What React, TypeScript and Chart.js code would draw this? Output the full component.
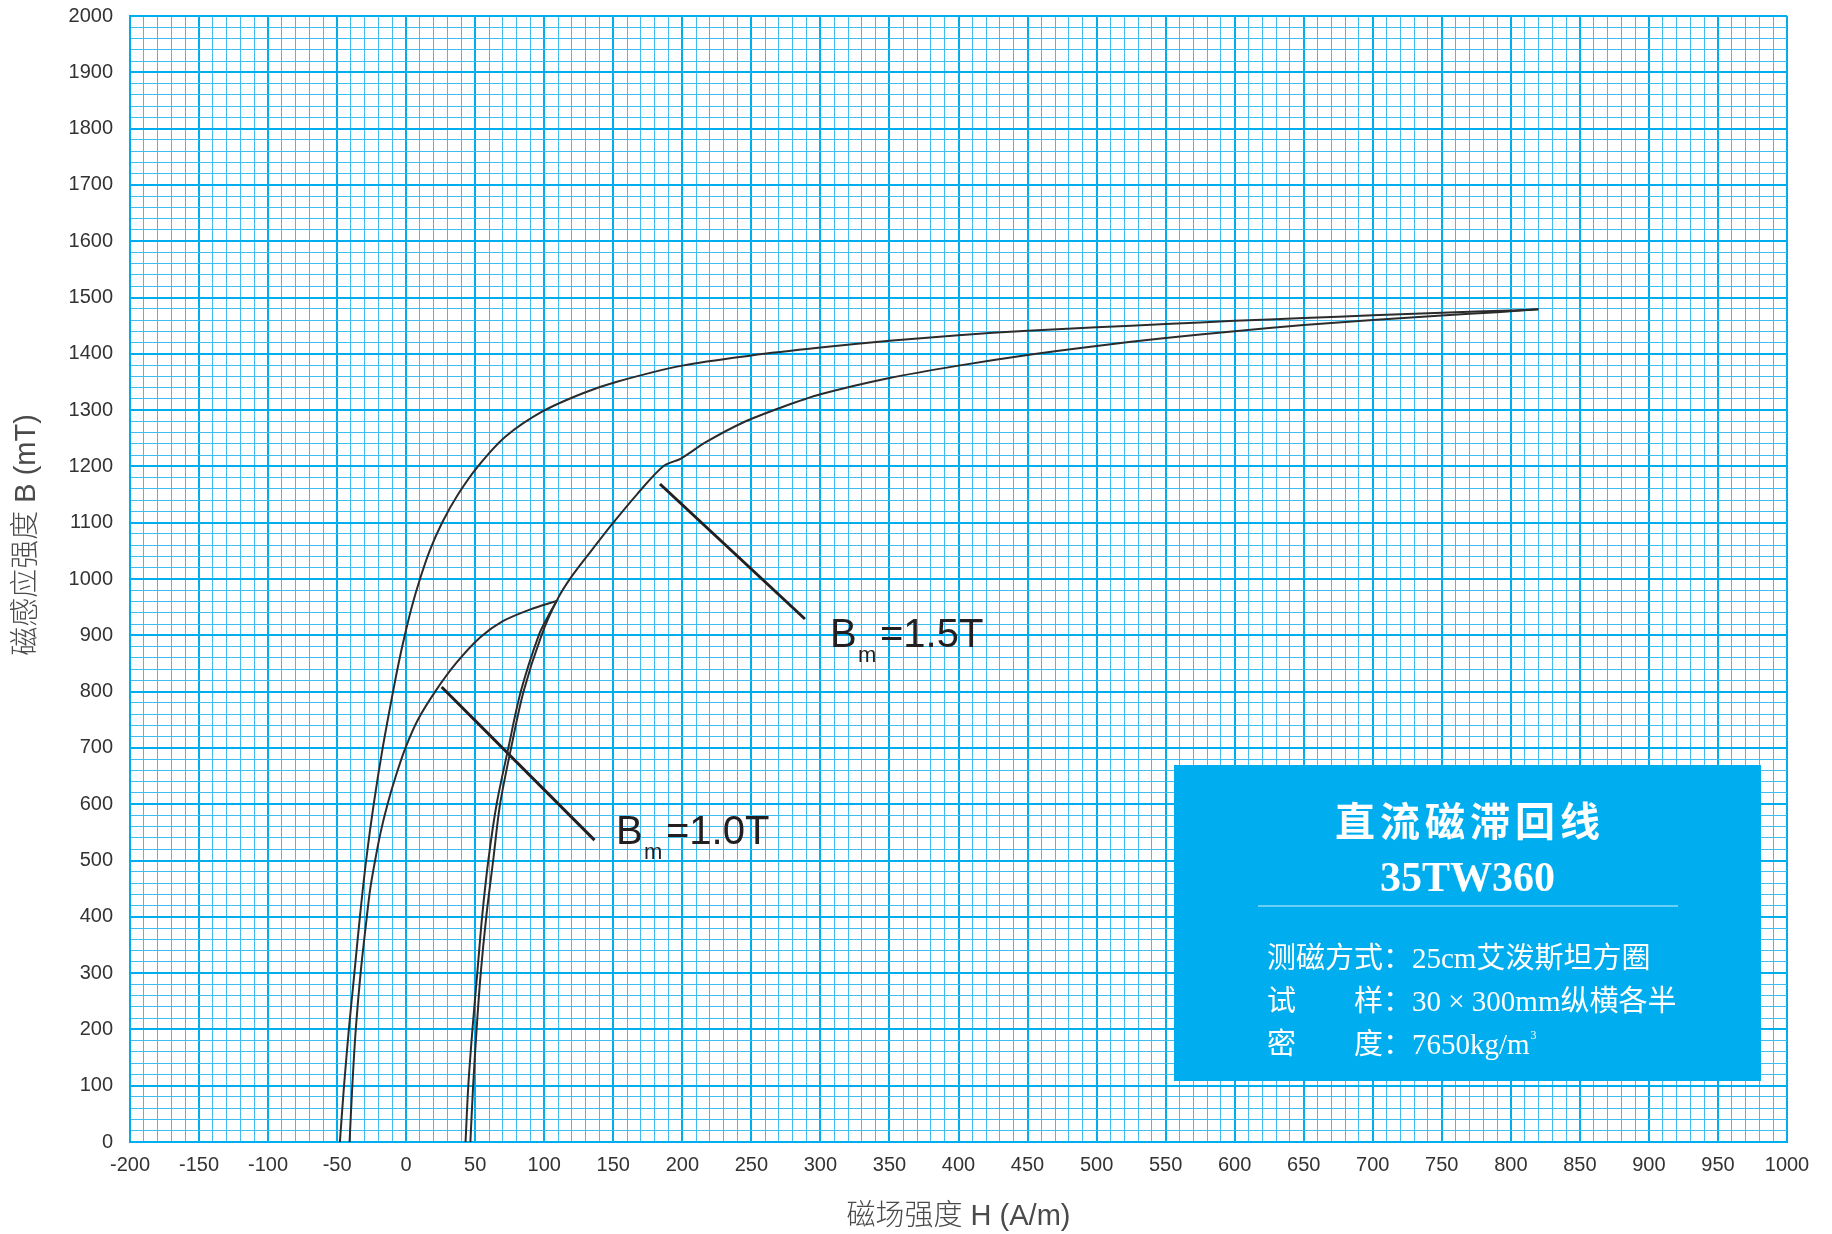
import React, { useEffect, useRef } from 'react';
import { Chart, registerables } from 'chart.js';

Chart.register(...registerables);

// ---- axes ----
const X_MIN = -200;
const X_MAX = 1000;
const X_MINOR_STEP = 10;
const X_MAJOR_STEP = 50;
const Y_MIN = 0;
const Y_MAX = 2000;
const Y_MINOR_STEP = 20;
const Y_MAJOR_STEP = 100;

const xTitle = '磁场强度 H (A/m)';
const yTitle = '磁感应强度 B (mT)';

// ---- Bm = 1.5T loop ----
const loop15DownH = [-48, -45, -41.5, -37.5, -33.5, -29, -23.5, -17, -9.5, -5.5, -1, 4, 10, 17, 26, 37.5, 52, 72, 99, 128, 152, 200, 250, 300, 350, 400, 450, 500, 550, 600, 650, 700, 750, 800, 820];
const loop15DownB = [0, 100, 200, 300, 400, 500, 600, 700, 800, 850, 900, 950, 1000, 1050, 1100, 1150, 1200, 1253, 1298, 1330, 1350, 1379, 1397, 1411, 1423, 1433, 1441, 1447, 1453, 1458.5, 1463.5, 1468.5, 1473, 1477, 1479];
const loop15UpH = [46.5, 48.5, 51, 54, 58, 63, 68, 76, 85, 98, 110, 120, 134, 150, 167, 186, 199, 217, 244, 272, 300, 350, 400, 450, 500, 550, 600, 650, 700, 750, 790, 820];
const loop15UpB = [0, 100, 200, 300, 400, 500, 600, 700, 800, 900, 966, 1005, 1050, 1100, 1150, 1200, 1214, 1243, 1278, 1305, 1328, 1357, 1379, 1398, 1414, 1428, 1440, 1451, 1460, 1468, 1474, 1479];

// ---- Bm = 1.0T loop ----
const loop10DownH = [-41, -39, -36.5, -33, -28.5, -26, -22.5, -18.5, -13.5, -7.5, -0.5, 8.5, 21, 36, 53.5, 70, 90, 109];
const loop10DownB = [0, 100, 200, 300, 400, 450, 500, 550, 600, 650, 700, 750, 800, 850, 896, 925, 946, 961];
const loop10UpH = [43, 45, 48, 51.5, 55, 59.5, 65.5, 74, 83, 96, 103, 109];
const loop10UpB = [0, 100, 200, 300, 400, 500, 600, 700, 800, 900, 935, 961];

// ---- pointer lines & labels ----
const pointer15H = [183.8, 288.8];
const pointer15B = [1168.7, 929];
const pointer10H = [25.7, 136.4];
const pointer10B = [808.2, 536.2];
const bmLabelText = ['=1.5T', '=1.0T'];
const bmLabelH = [306.9, 151.9];
const bmLabelB = [879.2, 529.3];

// ---- info box ----
const boxTitle = '直流磁滞回线';
const boxModel = '35TW360';
const boxLabels = ['测磁方式：', '试　　样：', '密　　度：'];
const boxValues = ['25cm艾泼斯坦方圈', '30 × 300mm纵横各半', '7650kg/m'];

const MAJOR = '#00aeef';
const MINOR = '#3fbdf0';
const CURVE = '#2b2b2b';
const INK = '#231f20';

const pts = (h: number[], b: number[]) => h.map((v, i) => ({ x: v, y: b[i] }));

const isMultiple = (v: number, m: number) => Math.abs(v % m) < 1e-6;

const overlayPlugin = {
  id: 'overlay',
  afterDraw(chart: any) {
    const { ctx, scales } = chart;
    const xs = scales.x;
    const ys = scales.y;
    ctx.save();

    // Bm labels
    for (let i = 0; i < bmLabelText.length; i++) {
      const px = xs.getPixelForValue(bmLabelH[i]);
      const py = ys.getPixelForValue(bmLabelB[i]);
      ctx.fillStyle = INK;
      ctx.textAlign = 'left';
      ctx.textBaseline = 'alphabetic';
      ctx.font = '40px "Liberation Sans", Arial, sans-serif';
      ctx.fillText('B', px, py);
      ctx.font = '22px "Liberation Sans", Arial, sans-serif';
      ctx.fillText('m', px + 28, py + 15);
      ctx.font = '40px "Liberation Sans", Arial, sans-serif';
      ctx.fillText(bmLabelText[i], px + 50, py);
    }

    // info box
    const bx = 1174, by = 765, bw = 587, bh = 316;
    const cx = bx + bw / 2;
    ctx.fillStyle = MAJOR;
    ctx.fillRect(bx, by, bw, bh);
    ctx.fillStyle = '#ffffff';
    ctx.font = 'bold 40px "Noto Sans CJK SC", sans-serif';
    (ctx as any).letterSpacing = '5px';
    const tw = ctx.measureText(boxTitle).width - 5;
    ctx.textBaseline = 'middle';
    ctx.fillText(boxTitle, cx - tw / 2, by + 56);
    (ctx as any).letterSpacing = '0px';
    ctx.textAlign = 'center';
    ctx.textBaseline = 'alphabetic';
    ctx.font = 'bold 42px "Liberation Serif", "Times New Roman", serif';
    ctx.fillText(boxModel, cx, by + 126);
    ctx.strokeStyle = 'rgba(255,255,255,0.55)';
    ctx.lineWidth = 1.5;
    ctx.beginPath();
    ctx.moveTo(bx + 84, by + 141);
    ctx.lineTo(bx + 504, by + 141);
    ctx.stroke();
    ctx.textAlign = 'left';
    ctx.font = '29px "Liberation Serif", "Noto Sans CJK SC", serif';
    const lineY = [by + 203, by + 246, by + 289];
    let valueX = bx + 93;
    for (let i = 0; i < boxLabels.length; i++) {
      ctx.fillText(boxLabels[i], bx + 93, lineY[i]);
      valueX = bx + 93 + ctx.measureText(boxLabels[0]).width;
      ctx.fillText(boxValues[i], valueX, lineY[i]);
    }
    const w3 = ctx.measureText(boxValues[2]).width;
    ctx.font = '12px "Liberation Serif", serif';
    ctx.fillText('3', valueX + w3 + 1, lineY[2] - 15);

    // axis titles
    ctx.fillStyle = '#4a4a4a';
    ctx.font = '300 29px "Liberation Sans", "Noto Sans CJK SC", sans-serif';
    ctx.textAlign = 'center';
    ctx.textBaseline = 'middle';
    const ca = chart.chartArea;
    ctx.fillText(xTitle, (ca.left + ca.right) / 2, 1217);
    ctx.translate(27, 535);
    ctx.rotate(-Math.PI / 2);
    ctx.fillText(yTitle, 0, 0);
    ctx.restore();
  },
};

export default function App() {
  const ref = useRef<HTMLCanvasElement | null>(null);

  useEffect(() => {
    if (!ref.current) return;
    const curve = (h: number[], b: number[]) => ({
      data: pts(h, b),
      showLine: true,
      borderColor: CURVE,
      borderWidth: 2,
      pointRadius: 0,
      tension: 0.3,
      fill: false,
    });
    const pointer = (h: number[], b: number[]) => ({
      data: pts(h, b),
      showLine: true,
      borderColor: INK,
      borderWidth: 3,
      pointRadius: 0,
      tension: 0,
      fill: false,
    });
    const chart = new Chart(ref.current, {
      type: 'scatter',
      data: {
        datasets: [
          curve(loop15DownH, loop15DownB),
          curve(loop15UpH, loop15UpB),
          curve(loop10DownH, loop10DownB),
          curve(loop10UpH, loop10UpB),
          pointer(pointer15H, pointer15B),
          pointer(pointer10H, pointer10B),
        ] as any,
      },
      options: {
        responsive: false,
        animation: false,
        devicePixelRatio: 1,
        layout: { padding: { top: 16, right: 45, left: 0, bottom: 0 } },
        plugins: {
          legend: { display: false },
          tooltip: { enabled: false },
        },
        scales: {
          x: {
            type: 'linear',
            min: X_MIN,
            max: X_MAX,
            afterFit: (s: any) => { s.height = 92; },
            ticks: {
              stepSize: X_MINOR_STEP,
              autoSkip: false,
              maxRotation: 0,
              minRotation: 0,
              padding: 11,
              color: '#333333',
              font: { family: '"Liberation Sans", Arial, sans-serif', size: 20 },
              callback: (v: any) => (isMultiple(Number(v), X_MAJOR_STEP) ? String(v) : ''),
            },
            grid: {
              drawTicks: false,
              color: (c: any) => (c.tick && isMultiple(c.tick.value, X_MAJOR_STEP) ? MAJOR : MINOR),
              lineWidth: (c: any) => (c.tick && isMultiple(c.tick.value, X_MAJOR_STEP) ? 2 : 1),
            },
            border: { display: true, color: MAJOR, width: 2 },
          },
          y: {
            type: 'linear',
            min: Y_MIN,
            max: Y_MAX,
            afterFit: (s: any) => { s.width = 130; s.paddingTop = 0; s.paddingBottom = 0; },
            ticks: {
              stepSize: Y_MINOR_STEP,
              autoSkip: false,
              padding: 17,
              color: '#333333',
              font: { family: '"Liberation Sans", Arial, sans-serif', size: 20 },
              callback: (v: any) => (isMultiple(Number(v), Y_MAJOR_STEP) ? String(v) : ''),
            },
            grid: {
              drawTicks: false,
              color: (c: any) => (c.tick && isMultiple(c.tick.value, Y_MAJOR_STEP) ? MAJOR : MINOR),
              lineWidth: (c: any) => (c.tick && isMultiple(c.tick.value, Y_MAJOR_STEP) ? 2 : 1),
            },
            border: { display: true, color: MAJOR, width: 2 },
          },
        },
      } as any,
      plugins: [overlayPlugin],
    });
    return () => chart.destroy();
  }, []);

  return (
    <div style={{ position: 'fixed', left: 0, top: 0, width: 1832, height: 1234, background: '#ffffff' }}>
      <canvas ref={ref} width={1832} height={1234} style={{ display: 'block', width: 1832, height: 1234 }} />
    </div>
  );
}
